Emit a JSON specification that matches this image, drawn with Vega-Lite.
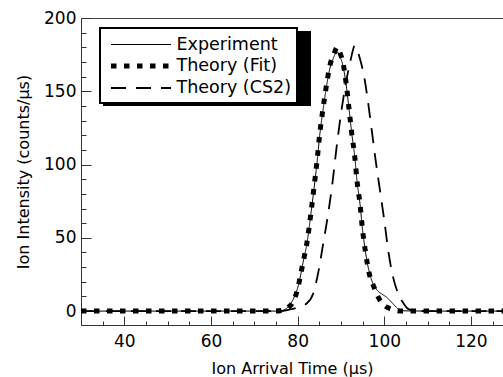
{
  "$schema": "https://vega.github.io/schema/vega-lite/v6.json",
  "autosize": {"type": "none"},
  "padding": {"left": 81, "top": 18, "right": 0, "bottom": 52},
  "width": 422,
  "height": 307,
  "background": "white",
  "config": {
    "view": {"stroke": "#444", "strokeWidth": 1},
    "axis": {
      "grid": false,
      "domainColor": "#333",
      "tickColor": "#333",
      "labelColor": "black",
      "titleColor": "black",
      "labelFont": "DejaVu Sans",
      "titleFont": "DejaVu Sans",
      "labelFontSize": 17,
      "titleFontSize": 16,
      "titleFontWeight": "normal"
    },
    "legend": {
      "labelFont": "DejaVu Sans",
      "labelFontSize": 17.5,
      "labelColor": "black",
      "strokeWidth": 2
    }
  },
  "data": {
    "values": [
      {"s": "Theory (CS2)", "t": 30, "v": 0},
      {"s": "Theory (CS2)", "t": 50, "v": 0},
      {"s": "Theory (CS2)", "t": 70, "v": 0},
      {"s": "Theory (CS2)", "t": 76, "v": 0},
      {"s": "Theory (CS2)", "t": 78, "v": 1},
      {"s": "Theory (CS2)", "t": 80, "v": 2.5},
      {"s": "Theory (CS2)", "t": 82, "v": 5},
      {"s": "Theory (CS2)", "t": 83.6, "v": 12},
      {"s": "Theory (CS2)", "t": 84.7, "v": 25.5},
      {"s": "Theory (CS2)", "t": 85.9, "v": 46},
      {"s": "Theory (CS2)", "t": 87.05, "v": 66.5},
      {"s": "Theory (CS2)", "t": 88.1, "v": 89},
      {"s": "Theory (CS2)", "t": 89, "v": 112},
      {"s": "Theory (CS2)", "t": 90, "v": 134.5},
      {"s": "Theory (CS2)", "t": 91.1, "v": 155},
      {"s": "Theory (CS2)", "t": 92.2, "v": 171},
      {"s": "Theory (CS2)", "t": 93.2, "v": 181},
      {"s": "Theory (CS2)", "t": 94.4, "v": 172},
      {"s": "Theory (CS2)", "t": 95.5, "v": 157.5},
      {"s": "Theory (CS2)", "t": 96.3, "v": 141.5},
      {"s": "Theory (CS2)", "t": 97.1, "v": 123.5},
      {"s": "Theory (CS2)", "t": 98, "v": 103},
      {"s": "Theory (CS2)", "t": 99, "v": 82.5},
      {"s": "Theory (CS2)", "t": 100, "v": 62},
      {"s": "Theory (CS2)", "t": 100.9, "v": 41.5},
      {"s": "Theory (CS2)", "t": 102, "v": 23.5},
      {"s": "Theory (CS2)", "t": 103.2, "v": 12},
      {"s": "Theory (CS2)", "t": 104.5, "v": 5},
      {"s": "Theory (CS2)", "t": 105.5, "v": 1.5},
      {"s": "Theory (CS2)", "t": 107, "v": 0.3},
      {"s": "Theory (CS2)", "t": 110, "v": 0},
      {"s": "Theory (CS2)", "t": 128, "v": 0},
      {"s": "Theory (Fit)", "t": 30, "v": 0},
      {"s": "Theory (Fit)", "t": 50, "v": 0},
      {"s": "Theory (Fit)", "t": 70, "v": 0},
      {"s": "Theory (Fit)", "t": 75, "v": 0},
      {"s": "Theory (Fit)", "t": 76.5, "v": 0.5},
      {"s": "Theory (Fit)", "t": 77.8, "v": 2.5},
      {"s": "Theory (Fit)", "t": 78.8, "v": 5.5},
      {"s": "Theory (Fit)", "t": 79.9, "v": 14},
      {"s": "Theory (Fit)", "t": 81.1, "v": 31},
      {"s": "Theory (Fit)", "t": 82.3, "v": 49.5},
      {"s": "Theory (Fit)", "t": 83.05, "v": 66.5},
      {"s": "Theory (Fit)", "t": 83.8, "v": 85},
      {"s": "Theory (Fit)", "t": 84.5, "v": 103},
      {"s": "Theory (Fit)", "t": 85.1, "v": 121},
      {"s": "Theory (Fit)", "t": 85.9, "v": 139},
      {"s": "Theory (Fit)", "t": 86.7, "v": 155},
      {"s": "Theory (Fit)", "t": 87.4, "v": 167},
      {"s": "Theory (Fit)", "t": 88.4, "v": 175.5},
      {"s": "Theory (Fit)", "t": 89.1, "v": 180},
      {"s": "Theory (Fit)", "t": 89.8, "v": 176},
      {"s": "Theory (Fit)", "t": 90.5, "v": 169},
      {"s": "Theory (Fit)", "t": 91.3, "v": 153},
      {"s": "Theory (Fit)", "t": 91.9, "v": 137},
      {"s": "Theory (Fit)", "t": 92.5, "v": 121},
      {"s": "Theory (Fit)", "t": 93.2, "v": 105},
      {"s": "Theory (Fit)", "t": 93.7, "v": 89},
      {"s": "Theory (Fit)", "t": 94.4, "v": 73},
      {"s": "Theory (Fit)", "t": 95, "v": 55},
      {"s": "Theory (Fit)", "t": 95.7, "v": 39.5},
      {"s": "Theory (Fit)", "t": 96.5, "v": 26},
      {"s": "Theory (Fit)", "t": 97.6, "v": 16.5},
      {"s": "Theory (Fit)", "t": 98.6, "v": 9.5},
      {"s": "Theory (Fit)", "t": 99.6, "v": 5},
      {"s": "Theory (Fit)", "t": 100.7, "v": 2.5},
      {"s": "Theory (Fit)", "t": 102, "v": 1},
      {"s": "Theory (Fit)", "t": 104, "v": 0},
      {"s": "Theory (Fit)", "t": 128, "v": 0},
      {"s": "Experiment", "t": 30, "v": 0},
      {"s": "Experiment", "t": 50, "v": 0},
      {"s": "Experiment", "t": 70, "v": 0},
      {"s": "Experiment", "t": 75, "v": 0},
      {"s": "Experiment", "t": 76.5, "v": 0.5},
      {"s": "Experiment", "t": 77.5, "v": 2},
      {"s": "Experiment", "t": 78.5, "v": 5.5},
      {"s": "Experiment", "t": 79.4, "v": 10.9},
      {"s": "Experiment", "t": 80.3, "v": 19},
      {"s": "Experiment", "t": 81.1, "v": 31},
      {"s": "Experiment", "t": 82.3, "v": 49},
      {"s": "Experiment", "t": 83.05, "v": 66},
      {"s": "Experiment", "t": 83.8, "v": 84},
      {"s": "Experiment", "t": 84.5, "v": 102},
      {"s": "Experiment", "t": 85.1, "v": 120},
      {"s": "Experiment", "t": 85.9, "v": 138},
      {"s": "Experiment", "t": 86.7, "v": 154},
      {"s": "Experiment", "t": 87.4, "v": 165},
      {"s": "Experiment", "t": 88.3, "v": 173},
      {"s": "Experiment", "t": 89.1, "v": 177},
      {"s": "Experiment", "t": 89.7, "v": 174},
      {"s": "Experiment", "t": 90.5, "v": 167},
      {"s": "Experiment", "t": 91.3, "v": 152},
      {"s": "Experiment", "t": 91.9, "v": 137},
      {"s": "Experiment", "t": 92.5, "v": 121},
      {"s": "Experiment", "t": 93.2, "v": 105},
      {"s": "Experiment", "t": 93.7, "v": 89},
      {"s": "Experiment", "t": 94.4, "v": 73},
      {"s": "Experiment", "t": 95, "v": 55},
      {"s": "Experiment", "t": 95.7, "v": 39.5},
      {"s": "Experiment", "t": 96.5, "v": 27},
      {"s": "Experiment", "t": 97.5, "v": 18},
      {"s": "Experiment", "t": 98.6, "v": 13.5},
      {"s": "Experiment", "t": 99.5, "v": 11.5},
      {"s": "Experiment", "t": 100.5, "v": 9.5},
      {"s": "Experiment", "t": 101.3, "v": 7.2},
      {"s": "Experiment", "t": 102, "v": 5},
      {"s": "Experiment", "t": 102.8, "v": 2.5},
      {"s": "Experiment", "t": 103.5, "v": 0.8},
      {"s": "Experiment", "t": 104.5, "v": 0.2},
      {"s": "Experiment", "t": 110, "v": 0},
      {"s": "Experiment", "t": 128, "v": 0}
    ]
  },
  "mark": {"type": "line", "color": "black", "strokeCap": "butt", "interpolate": "monotone", "clip": true},
  "encoding": {
    "x": {
      "field": "t", "type": "quantitative",
      "scale": {"domain": [30, 127.4], "nice": false, "zero": false},
      "axis": {
        "title": "Ion Arrival Time (µs)",
        "values": [30, 35, 40, 45, 50, 55, 60, 65, 70, 75, 80, 85, 90, 95, 100, 105, 110, 115, 120, 125],
        "labelExpr": "datum.value % 20 === 0 ? datum.label : ''",
        "tickSize": {"condition": {"test": "datum.value % 20 === 0", "value": -9}, "value": -4},
        "labelPadding": 17,
        "titlePadding": 11,
        "labelFlush": false
      }
    },
    "y": {
      "field": "v", "type": "quantitative",
      "scale": {"domain": [-9.5, 200], "nice": false, "zero": false},
      "axis": {
        "title": "Ion Intensity (counts/µs)",
        "values": [0, 10, 20, 30, 40, 50, 60, 70, 80, 90, 100, 110, 120, 130, 140, 150, 160, 170, 180, 190, 200],
        "labelExpr": "datum.value % 50 === 0 ? datum.label : ''",
        "tickSize": {"condition": {"test": "datum.value % 50 === 0", "value": -10}, "value": -5},
        "labelPadding": 15,
        "titlePadding": 12,
        "labelFlush": false
      }
    },
    "opacity": {
      "field": "s", "type": "nominal",
      "scale": {"type": "ordinal", "domain": ["Theory (CS2)", "Theory (Fit)", "Experiment"], "range": [1, 1, 1]},
      "legend": {
        "orient": "none", "legendX": 23, "legendY": 14, "title": null, "zindex": 1,
        "strokeColor": "black", "fillColor": "black",
        "padding": 6, "symbolType": "M-0.75,0H5.25", "symbolSize": 400, "symbolStrokeColor": "black",
        "labelExpr": "''", "labelOffset": 171.2, "rowPadding": 0.5
      }
    },
    "strokeDash": {
      "field": "s", "type": "nominal",
      "scale": {"domain": ["Experiment", "Theory (Fit)", "Theory (CS2)"], "range": [[1, 0], [5.5, 7.5], [15, 10]]},
      "legend": {
        "orient": "none", "legendX": 19, "legendY": 10, "title": null, "zindex": 2,
        "strokeColor": "black", "fillColor": "white",
        "padding": 6, "symbolType": "M-0.75,0H5.25", "symbolSize": 400, "symbolStrokeColor": "black",
        "labelExpr": "datum.label + '\u00a0\u00a0'", "labelOffset": 45.5, "rowPadding": 0.5
      }
    },
    "strokeWidth": {
      "field": "s", "type": "nominal",
      "scale": {"type": "ordinal", "domain": ["Experiment", "Theory (Fit)", "Theory (CS2)"], "range": [1, 5, 1.8]},
      "legend": {
        "orient": "none", "legendX": 19, "legendY": 10, "title": null, "zindex": 2,
        "strokeColor": "black", "fillColor": "white",
        "padding": 6, "symbolType": "M-0.75,0H5.25", "symbolSize": 400, "symbolStrokeColor": "black",
        "labelExpr": "datum.label + '\u00a0\u00a0'", "labelOffset": 45.5, "rowPadding": 0.5
      }
    }
  }
}
